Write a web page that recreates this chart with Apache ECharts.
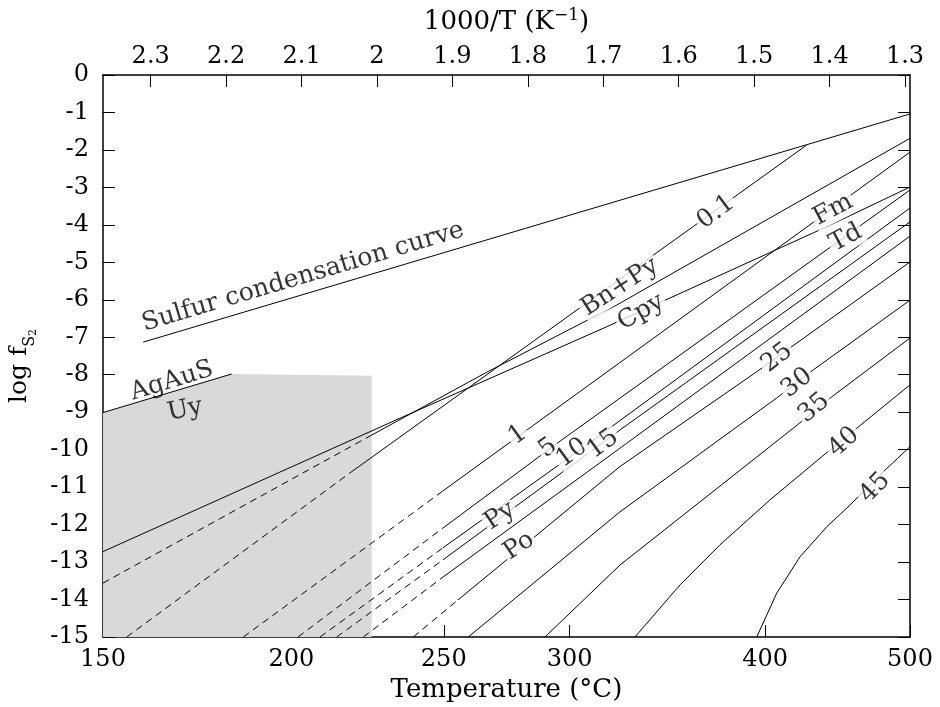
<!DOCTYPE html>
<html><head><meta charset="utf-8">
<script src="https://cdn.jsdelivr.net/npm/echarts@6/dist/echarts.min.js"></script>
<style>html,body{margin:0;padding:0;background:#fff}#c{width:940px;height:707px}</style>
</head><body><div id="c"></div>
<script>
// x = 1000/T (K^-1), y = log fS2
const tempTicks = [150, 200, 250, 300, 400, 500];
const invTicks = [1.3, 1.4, 1.5, 1.6, 1.7, 1.8, 1.9, 2.0, 2.1, 2.2, 2.3];
const yMin = -15, yMax = 0;

const sulfurCurve = [[2.310, -7.13], [1.2934, -1.04]];
const agAuSLine = [[2.3632, -9.01], [2.1926, -7.98]];
const uytenbogaardtiteField = [[2.3632, -9.01], [2.1926, -7.98], [2.0070, -8.03]];

const iso01Dashed = [[2.3318, -15], [2.0358, -10.62]];
const iso01Solid = [[2.0358, -10.62], [1.4304, -1.87]];
const bnPyCpyDashed = [[2.3632, -13.56], [2.0070, -9.61]];
const bnPyCpySolid = [[2.0070, -9.61], [1.8542, -7.93], [1.6822, -6.14], [1.2934, -1.69]];
const fmTdLine = [[2.3632, -12.72], [1.9695, -9.16], [1.6955, -6.72], [1.4038, -4.05], [1.2934, -2.99]];

const iso1Dashed = [[2.1772, -15], [1.9125, -11.10]];
const iso1Solid = [[1.9125, -11.10], [1.2934, -2.06]];
const iso5Dashed = [[2.1047, -15], [1.9125, -12.09]];
const iso5Solid = [[1.9125, -12.09], [1.7551, -9.74], [1.2934, -3.07]];
const iso10Dashed = [[2.0756, -15], [1.9125, -12.62]];
const iso10Solid = [[1.9125, -12.62], [1.7220, -9.875], [1.2934, -3.55]];
const iso15Dashed = [[2.0534, -15], [1.9125, -12.94]];
const iso15Solid = [[1.9125, -12.94], [1.6779, -9.475], [1.2934, -3.92]];
const pyPoDashed = [[2.0182, -15], [1.9125, -13.40]];
const pyPoSolid = [[1.9125, -13.40], [1.6690, -9.83], [1.2934, -4.30]];
const iso25Dashed = [[1.9519, -15], [1.8926, -14.01]];
const iso25Solid = [[1.8926, -14.01], [1.6779, -10.45], [1.4966, -7.92], [1.2934, -4.99]];
const iso30 = [[1.8790, -15], [1.6779, -11.66], [1.4701, -8.62], [1.4216, -7.87], [1.2934, -6.01]];
const iso35 = [[1.7773, -15], [1.6779, -13.08], [1.4459, -9.39], [1.3972, -8.59], [1.2934, -7.02]];
const iso40 = [[1.6580, -15], [1.5983, -13.61], [1.5453, -12.54], [1.4790, -11.34], [1.4105, -10.19], [1.3641, -9.43], [1.2934, -8.27]];
const iso45 = [[1.4966, -15], [1.4701, -13.83], [1.4392, -12.86], [1.4038, -12.06], [1.3730, -11.48], [1.3288, -10.59], [1.2934, -9.92]];

// [x, y, text, rotation, whiteBackground]
const curveLabels = [
  [2.0981, -5.39, 'Sulfur condensation curve', 16.5, false],
  [2.2718, -8.17, 'AgAuS', 17, false],
  [2.2545, -8.94, 'Uy', 12, false],
  [1.6779, -5.66, 'Bn+Py', 33, true],
  [1.6500, -6.33, 'Cpy', 30, true],
  [1.5506, -3.66, '0.1', 37, true],
  [1.3955, -3.60, 'Fm', 28, true],
  [1.3783, -4.35, 'Td', 28, true],
  [1.8131, -9.61, '1', 36, true],
  [1.7733, -9.96, '5', 36, true],
  [1.7415, -10.09, '10', 36, true],
  [1.7004, -9.85, '15', 36, true],
  [1.8369, -11.77, 'Py', 34, true],
  [1.8118, -12.57, 'Po', 34, true],
  [1.4697, -7.55, '25', 38, true],
  [1.4432, -8.22, '30', 38, true],
  [1.4207, -8.89, '35', 40, true],
  [1.3809, -9.80, '40', 42, true],
  [1.3398, -11.02, '45', 46, true]
];

const FONT = 'DejaVu Serif';
const toInv = t => 1000 / (t + 273.15);
const xMax = toInv(tempTicks[0]);
const xMin = toInv(tempTicks[tempTicks.length - 1]);

function lineSeries(data, dashed) {
  return {
    type: 'line', data: data, showSymbol: false, symbol: 'none', silent: true,
    xAxisIndex: 0, yAxisIndex: 0, z: 3,
    lineStyle: { color: '#000', width: 1, type: dashed ? [7, 5] : 'solid' }
  };
}

const series = [];
series.push({
  type: 'line', data: uytenbogaardtiteField, showSymbol: false, symbol: 'none', silent: true,
  lineStyle: { width: 0 }, areaStyle: { color: '#d9d9d9', opacity: 1, origin: 'start' }, z: 1
});
[
  [sulfurCurve, false], [agAuSLine, false],
  [iso01Dashed, true], [iso01Solid, false],
  [bnPyCpyDashed, true], [bnPyCpySolid, false], [fmTdLine, false],
  [iso1Dashed, true], [iso1Solid, false],
  [iso5Dashed, true], [iso5Solid, false],
  [iso10Dashed, true], [iso10Solid, false],
  [iso15Dashed, true], [iso15Solid, false],
  [pyPoDashed, true], [pyPoSolid, false],
  [iso25Dashed, true], [iso25Solid, false],
  [iso30, false], [iso35, false], [iso40, false], [iso45, false]
].forEach(([d, dash]) => series.push(lineSeries(d, dash)));

series.push({
  type: 'scatter', symbolSize: 0, silent: true, z: 10,
  data: curveLabels.map(l => ({
    value: [l[0], l[1]],
    label: {
      show: true, position: 'inside', formatter: l[2], rotate: l[3],
      fontFamily: FONT, fontSize: 25, color: '#000',
      backgroundColor: l[4] ? '#fff' : 'transparent', padding: [0, 2]
    }
  }))
});

const axisFont = { fontFamily: FONT, fontSize: 24, color: '#000' };
const chart = echarts.init(document.getElementById('c'), null, { renderer: 'canvas' });
chart.setOption({
  animation: false,
  backgroundColor: '#fff',
  grid: { left: 103, right: 30, top: 75, bottom: 70, containLabel: false, outerBoundsMode: 'none' },
  xAxis: [
    {
      type: 'value', min: xMin, max: xMax, inverse: true, position: 'bottom',
      name: 'Temperature (°C)', nameLocation: 'middle', nameGap: 35,
      nameTextStyle: { fontFamily: FONT, fontSize: 26, color: '#000' },
      axisLine: { show: true, onZero: false, lineStyle: { color: '#000', width: 1.5 } },
      axisTick: { show: true, inside: true, length: 12, customValues: tempTicks.map(toInv), lineStyle: { color: '#000' } },
      axisLabel: Object.assign({ margin: 11, customValues: tempTicks.map(toInv), formatter: v => String(Math.round(1000 / v - 273.15)) }, axisFont),
      splitLine: { show: false }
    },
    {
      type: 'value', min: xMin, max: xMax, inverse: true, position: 'top',
      name: '{a|1000/T (K}{s|−1}{a|)}', nameLocation: 'middle', nameGap: 40,
      nameTextStyle: {
        rich: {
          a: { fontFamily: FONT, fontSize: 26, color: '#000', verticalAlign: 'bottom', padding: [0, 0, 0, 0] },
          s: { fontFamily: FONT, fontSize: 17, color: '#000', verticalAlign: 'bottom', padding: [0, 0, 11, 0] }
        }
      },
      axisLine: { show: true, onZero: false, lineStyle: { color: '#000', width: 1.5 } },
      axisTick: { show: true, inside: true, length: 12, customValues: invTicks, lineStyle: { color: '#000' } },
      axisLabel: Object.assign({ margin: 6, customValues: invTicks, formatter: v => String(Math.round(v * 10) / 10) }, axisFont),
      splitLine: { show: false }
    }
  ],
  yAxis: [
    {
      type: 'value', min: yMin, max: yMax, interval: 1, position: 'left',
      name: '{a|log f}{b|S}{c|2}{sp|}', nameLocation: 'middle', nameGap: 64, nameRotate: 90,
      nameTextStyle: {
        rich: {
          a: { fontFamily: FONT, fontSize: 25, color: '#000', verticalAlign: 'bottom', padding: [0, 0, 7, 0] },
          b: { fontFamily: FONT, fontSize: 16, color: '#000', verticalAlign: 'bottom', padding: [0, 0, 1, 0] },
          c: { fontFamily: FONT, fontSize: 11, color: '#000', verticalAlign: 'bottom', padding: [0, 0, 0, 0] },
          sp: { width: 20, fontSize: 11 }
        }
      },
      axisLine: { show: true, onZero: false, lineStyle: { color: '#000', width: 1.5 } },
      axisTick: { show: true, inside: true, length: 12, lineStyle: { color: '#000' } },
      axisLabel: Object.assign({ margin: 14 }, axisFont),
      splitLine: { show: false }
    },
    {
      type: 'value', min: yMin, max: yMax, interval: 1, position: 'right',
      axisLine: { show: true, onZero: false, lineStyle: { color: '#000', width: 1.5 } },
      axisTick: { show: true, inside: true, length: 12, lineStyle: { color: '#000' } },
      axisLabel: { show: false },
      splitLine: { show: false }
    }
  ],
  series: series
});
</script></body></html>
